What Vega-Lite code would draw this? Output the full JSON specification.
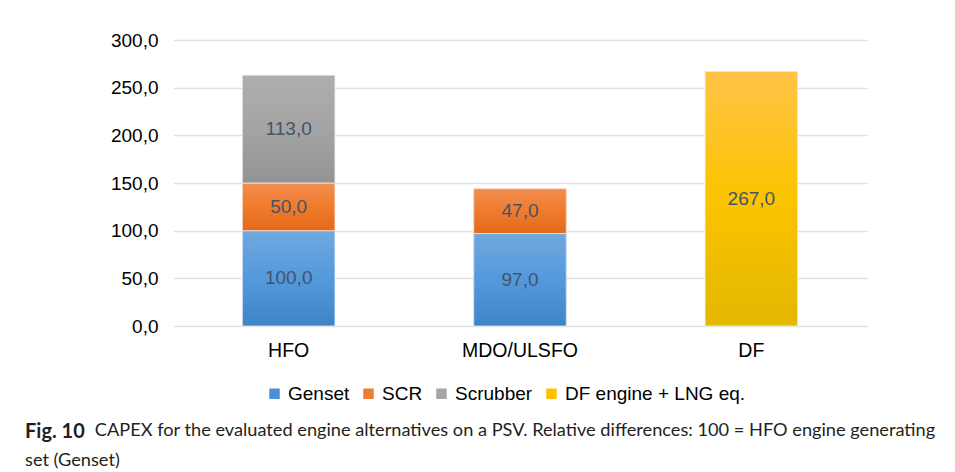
{
  "$schema": "https://vega.github.io/schema/vega-lite/v6.json",
  "width": 694,
  "height": 286,
  "autosize": {"type": "none"},
  "padding": {"left": 173, "top": 40, "right": 88, "bottom": 146},
  "background": "white",
  "config": {
    "locale": {"number": {"decimal": ",", "thousands": ".", "grouping": [3], "currency": ["", ""]}},
    "view": {"stroke": null},
    "font": "Liberation Sans"
  },
  "title": {
    "text": "Fig. 10",
    "subtitle": ["\u200b\u00a0\u00a0\u00a0\u00a0\u00a0\u00a0\u00a0\u00a0\u00a0\u00a0\u00a0\u00a0\u00a0\u00a0\u00a0CAPEX for the evaluated engine alternatives on a PSV. Relative differences: 100 = HFO engine generating", "set (Genset)"],
    "orient": "bottom",
    "anchor": "start",
    "frame": "group",
    "dx": -148,
    "offset": 18,
    "font": "Lato",
    "fontSize": 20,
    "fontWeight": "bold",
    "color": "#231f20",
    "subtitleFont": "Lato",
    "subtitleFontSize": 18.2,
    "subtitleFontWeight": "normal",
    "subtitleColor": "#231f20",
    "subtitleLineHeight": 30,
    "subtitlePadding": -20
  },
  "data": {
    "values": [
      {"fuel": "HFO", "series": "Genset", "ord": 1, "value": 100},
      {"fuel": "HFO", "series": "SCR", "ord": 2, "value": 50},
      {"fuel": "HFO", "series": "Scrubber", "ord": 3, "value": 113},
      {"fuel": "MDO/ULSFO", "series": "Genset", "ord": 1, "value": 97},
      {"fuel": "MDO/ULSFO", "series": "SCR", "ord": 2, "value": 47},
      {"fuel": "DF", "series": "DF engine + LNG eq.", "ord": 4, "value": 267}
    ]
  },
  "transform": [
    {"stack": "value", "groupby": ["fuel"], "sort": [{"field": "ord"}], "as": ["y0", "y1"]},
    {"calculate": "(datum.y0 + datum.y1) / 2", "as": "mid"}
  ],
  "encoding": {
    "x": {
      "field": "fuel",
      "type": "nominal",
      "sort": ["HFO", "MDO/ULSFO", "DF"],
      "scale": {"paddingInner": 0.6, "paddingOuter": 0.3},
      "axis": {
        "title": null,
        "labelAngle": 0,
        "labelFontSize": 19.5,
        "labelColor": "#000000",
        "labelPadding": 15,
        "ticks": false,
        "domain": false
      }
    }
  },
  "layer": [
    {
      "mark": {"type": "bar"},
      "encoding": {
        "y": {
          "field": "y1",
          "type": "quantitative",
          "scale": {"domain": [0, 300]},
          "axis": {
            "title": null,
            "values": [0, 50, 100, 150, 200, 250, 300],
            "format": ".1f",
            "labelFontSize": 19,
            "labelColor": "#000000",
            "labelPadding": 15,
            "ticks": false,
            "domain": false,
            "gridColor": "#dde1e6",
            "gridWidth": 1.5
          }
        },
        "y2": {"field": "y0"},
        "color": {
          "field": "series",
          "type": "nominal",
          "scale": {
            "domain": ["Genset", "SCR", "Scrubber", "DF engine + LNG eq."],
            "range": ["#4a90d9", "#ed7d31", "#a5a5a5", "#ffc000"]
          },
          "legend": {
            "title": null,
            "orient": "none",
            "legendX": 92,
            "legendY": 344,
            "direction": "horizontal",
            "symbolType": "square",
            "symbolSize": 110,
            "symbolStrokeWidth": 0,
            "labelFontSize": 19,
            "labelLimit": 400,
            "labelColor": "#000000",
            "labelFont": "Liberation Sans",
            "columnPadding": 9,
            "symbolOffset": 0,
            "labelOffset": 4
          }
        }
      }
    },
    {
      "transform": [{"filter": "datum.series === 'Genset'"}],
      "mark": {"type": "bar", "stroke": "#e8eef6", "strokeWidth": 0.8, "fill": {"gradient": "linear", "x1": 0, "y1": 0, "x2": 0, "y2": 1, "stops": [{"offset": 0, "color": "#71a8de"}, {"offset": 0.5, "color": "#5399dd"}, {"offset": 1, "color": "#3f84c6"}]}},
      "encoding": {"y": {"field": "y1", "type": "quantitative"}, "y2": {"field": "y0"}}
    },
    {
      "transform": [{"filter": "datum.series === 'SCR'"}],
      "mark": {"type": "bar", "stroke": "#f6e8e0", "strokeWidth": 0.8, "fill": {"gradient": "linear", "x1": 0, "y1": 0, "x2": 0, "y2": 1, "stops": [{"offset": 0, "color": "#f28d50"}, {"offset": 0.5, "color": "#f07b2c"}, {"offset": 1, "color": "#e4681a"}]}},
      "encoding": {"y": {"field": "y1", "type": "quantitative"}, "y2": {"field": "y0"}}
    },
    {
      "transform": [{"filter": "datum.series === 'Scrubber'"}],
      "mark": {"type": "bar", "stroke": "#eeeeee", "strokeWidth": 0.8, "fill": {"gradient": "linear", "x1": 0, "y1": 0, "x2": 0, "y2": 1, "stops": [{"offset": 0, "color": "#aeaeae"}, {"offset": 0.5, "color": "#a4a4a4"}, {"offset": 1, "color": "#939393"}]}},
      "encoding": {"y": {"field": "y1", "type": "quantitative"}, "y2": {"field": "y0"}}
    },
    {
      "transform": [{"filter": "datum.series === 'DF engine + LNG eq.'"}],
      "mark": {"type": "bar", "stroke": "#f8efd0", "strokeWidth": 0.8, "fill": {"gradient": "linear", "x1": 0, "y1": 0, "x2": 0, "y2": 1, "stops": [{"offset": 0, "color": "#ffc447"}, {"offset": 0.5, "color": "#fcc300"}, {"offset": 1, "color": "#e3b800"}]}},
      "encoding": {"y": {"field": "y1", "type": "quantitative"}, "y2": {"field": "y0"}}
    },
    {
      "mark": {"type": "text", "fontSize": 19, "color": "#44546a", "font": "Liberation Sans", "baseline": "middle"},
      "encoding": {
        "y": {"field": "mid", "type": "quantitative"},
        "text": {"field": "value", "type": "quantitative", "format": ".1f"}
      }
    }
  ]
}
